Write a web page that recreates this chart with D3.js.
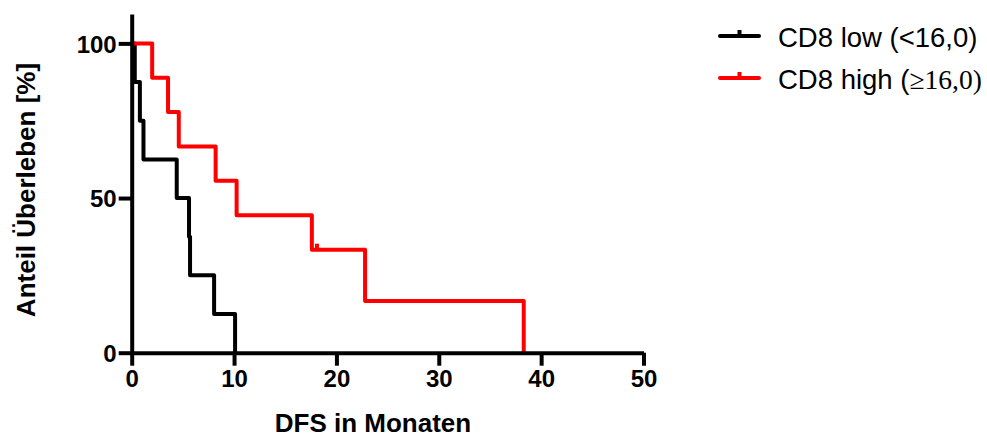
<!DOCTYPE html>
<html>
<head>
<meta charset="utf-8">
<script src="https://cdn.jsdelivr.net/npm/d3@7"></script>
<style>
  body { margin: 0; background: #fff; }
  svg { display: block; }
  text { font-family: "Liberation Sans", Arial, sans-serif; }
</style>
</head>
<body>
<div id="chart"></div>
<script>
// Kaplan-Meier steps (months, % surviving)
var lowTimes = [0, 0.3, 0.8, 1.15, 4.4, 5.6, 5.7, 8.05, 10.1];
var lowSurv  = [100, 87.5, 75, 62.5, 50, 37.5, 25, 12.5, 0];
var highTimes = [0, 2.0, 3.55, 4.6, 8.2, 10.25, 17.6, 22.8, 38.3];
var highSurv  = [100, 88.9, 77.8, 66.7, 55.6, 44.4, 33.3, 16.7, 0];
var highCensorTimes = [18.1];
var highCensorSurv = [33.3];
var xTicks = [0, 10, 20, 30, 40, 50];
var yTicks = [0, 50, 100];
var seriesNames = ["CD8 low (<16,0)", "CD8 high ("];
var seriesColors = ["#000000", "#ff0000"];

function draw_chart() {
  var width = 987, height = 439;
  var svg = d3.select("#chart").append("svg")
    .attr("width", width)
    .attr("height", height);

  var x = d3.scaleLinear().domain([0, 50]).range([131.7, 643.5]);
  var y = d3.scaleLinear().domain([0, 109.5]).range([352.7, 14]);

  const toPts = (ts, ss) => ts.map((t, i) => [t, ss[i]]);
  const line = d3.line()
    .x(d => x(d[0]))
    .y(d => y(d[1]))
    .curve(d3.curveStepAfter);

  // curves (black first, red on top)
  var series = [toPts(lowTimes, lowSurv), toPts(highTimes, highSurv)];
  svg.append("g")
    .selectAll("path")
    .data(series)
    .join("path")
    .attr("fill", "none")
    .attr("stroke", (d, i) => seriesColors[i])
    .attr("stroke-width", 4)
    .attr("stroke-linejoin", "round")
    .attr("stroke-linecap", "round")
    .attr("d", line);

  // censor marks
  svg.append("g")
    .selectAll("line")
    .data(toPts(highCensorTimes, highCensorSurv))
    .join("line")
    .attr("x1", d => x(d[0])).attr("x2", d => x(d[0]))
    .attr("y1", d => y(d[1])).attr("y2", d => y(d[1]) - 6)
    .attr("stroke", seriesColors[1])
    .attr("stroke-width", 4);

  // axes
  var xAxis = svg.append("g")
    .attr("transform", `translate(0,${y(0)})`)
    .call(d3.axisBottom(x).tickValues(xTicks).tickSize(13).tickSizeOuter(0).tickPadding(4));
  var yAxis = svg.append("g")
    .attr("transform", `translate(${x(0)},0)`)
    .call(d3.axisLeft(y).tickValues(yTicks).tickSize(13).tickSizeOuter(0).tickPadding(2));

  [xAxis, yAxis].forEach(g => {
    g.select(".domain").attr("stroke", "#000").attr("stroke-width", 4);
    g.selectAll(".tick line").attr("stroke", "#000").attr("stroke-width", 4);
    g.selectAll(".tick text")
      .attr("fill", "#000")
      .style("font-family", '"Liberation Sans", Arial, sans-serif')
      .style("font-weight", "bold")
      .style("font-size", "24px");
  });
  yAxis.selectAll(".tick text").attr("dy", "0.36em");

  // axis titles
  svg.append("text")
    .attr("x", 373)
    .attr("y", 432)
    .attr("text-anchor", "middle")
    .style("font-weight", "bold")
    .style("font-size", "26px")
    .text("DFS in Monaten");

  svg.append("text")
    .attr("transform", "translate(35,190) rotate(-90)")
    .attr("text-anchor", "middle")
    .style("font-weight", "bold")
    .style("font-size", "26px")
    .text("Anteil Überleben [%]");

  // legend
  var legend = svg.append("g")
    .selectAll("g")
    .data(seriesNames)
    .join("g")
    .attr("transform", (d, i) => `translate(720,${36 + i * 42})`);

  legend.append("line")
    .attr("x1", 0).attr("x2", 39)
    .attr("stroke", (d, i) => seriesColors[i])
    .attr("stroke-width", 4)
    .attr("stroke-linecap", "round");
  legend.append("line")
    .attr("x1", 19.5).attr("x2", 19.5)
    .attr("y1", 0).attr("y2", -6)
    .attr("stroke", (d, i) => seriesColors[i])
    .attr("stroke-width", 4);

  var lt = legend.append("text")
    .attr("x", 58)
    .attr("y", 11)
    .style("font-size", "27.5px")
    .text(d => d);
  lt.filter((d, i) => i === 1)
    .append("tspan")
    .style("font-family", '"Liberation Serif", "Times New Roman", serif')
    .text("≥16,0)");
}
draw_chart();
</script>
</body>
</html>
